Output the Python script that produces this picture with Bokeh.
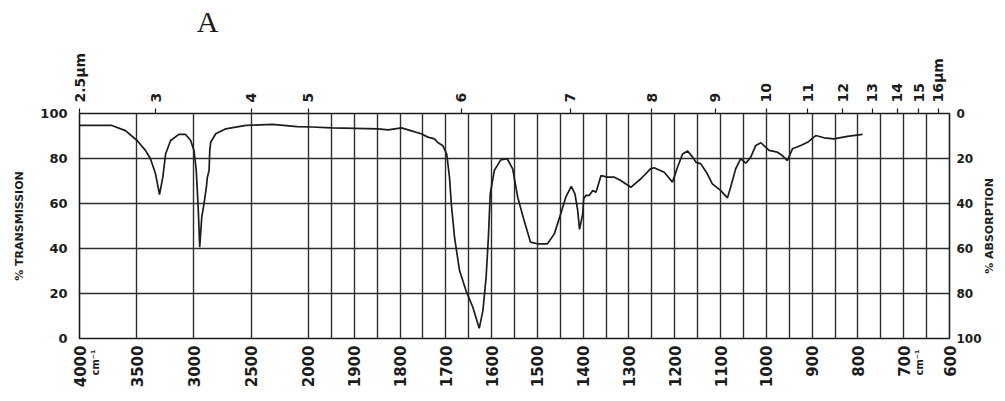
import math
from bokeh.plotting import figure
from bokeh.models import Range1d, LinearAxis, FixedTicker, Label
from bokeh.embed import file_html
from bokeh.resources import INLINE

# ---- data ----
wavenumber = [4000, 3717, 3599, 3497, 3424, 3380, 3336, 3301, 3272, 3248, 3204, 3132, 3073, 3029,
              3000, 2980, 2962, 2950, 2932, 2912, 2892, 2883, 2868, 2862, 2854, 2810, 2722, 2547,
              2313, 2100, 1991, 1950, 1848, 1826, 1797, 1775, 1754, 1739, 1725, 1717, 1707, 1698,
              1692, 1688, 1681, 1670, 1656, 1641, 1627, 1619, 1612, 1607, 1603, 1594, 1580, 1566,
              1554, 1543, 1529, 1515, 1500, 1478, 1463, 1449, 1438, 1426, 1418, 1412, 1408, 1401,
              1399, 1394, 1387, 1379, 1372, 1361, 1347, 1332, 1318, 1296, 1274, 1253, 1245, 1223,
              1205, 1194, 1183, 1172, 1161, 1154, 1143, 1129, 1118, 1100, 1085, 1078, 1067, 1056,
              1045, 1034, 1023, 1012, 994, 976, 965, 954, 943, 925, 910, 892, 874, 852, 823, 790]
transmission = [94.7, 94.7, 92.4, 88.0, 83.6, 79.9, 73.2, 64.0, 71.7, 82.0, 88.0, 90.7, 90.7, 88.0,
                83.6, 74.7, 56.9, 40.6, 53.9, 59.9, 67.2, 71.7, 74.7, 83.6, 87.2, 91.0, 93.2, 94.7,
                95.2, 94.2, 94.0, 93.6, 93.2, 92.7, 93.6, 92.3, 91.0, 89.5, 88.7, 87.0, 85.8, 82.0,
                71.7, 59.9, 45.0, 30.2, 21.3, 13.9, 4.5, 12.4, 27.2, 45.0, 64.3, 74.7, 79.4, 79.9,
                75.4, 62.8, 52.4, 42.8, 42.1, 42.1, 46.5, 55.4, 62.8, 67.6, 64.3, 56.9, 48.5, 55.4,
                62.1, 63.6, 63.6, 65.8, 65.0, 72.4, 71.7, 71.7, 70.2, 67.2, 71.0, 75.4, 75.9, 73.9,
                69.5, 76.1, 82.0, 83.3, 80.6, 78.4, 77.6, 73.2, 68.7, 65.8, 62.5, 67.2, 75.4, 79.9,
                77.9, 80.6, 85.8, 87.0, 83.6, 82.8, 81.3, 79.1, 84.3, 85.8, 87.2, 90.2, 89.2, 88.7,
                89.8, 90.7]

bottom_tick_wn = [4000, 3500, 3000, 2500, 2000, 1900, 1800, 1700, 1600, 1500, 1400, 1300,
                  1200, 1100, 1000, 900, 800, 700, 600]
bottom_tick_labels = [str(w) for w in bottom_tick_wn]
unit_label_wn = [4000, 700]
unit_labels = ["cm⁻¹", "cm⁻¹"]
top_tick_um = [2.5, 3, 4, 5, 6, 7, 8, 9, 10, 11, 12, 13, 14, 15, 16]
top_tick_labels = ["2.5µm", "3", "4", "5", "6", "7", "8", "9", "10", "11", "12", "13", "14", "15", "16µm"]
y_ticks = [0, 20, 40, 60, 80, 100]
transmission_labels = ["0", "20", "40", "60", "80", "100"]
absorption_labels = ["100", "80", "60", "40", "20", "0"]
grid_wn = [4000, 3500, 3000, 2500, 2000] + list(range(1950, 599, -50))


def chart_x(wn):
    # classic IR chart paper: 4000-2000 cm-1 compressed 4:1 relative to 2000-600 cm-1
    return (4000 - wn) / 4.0 if wn >= 2000 else 500.0 + (2000 - wn)


INK = "#1c1c1c"
GRID = "#2e2e2e"
FONT = "DejaVu Sans"
UNIT_SHIFT = 34  # small sideways shift of the "cm-1" captions next to their numbers

p = figure(width=1005, height=401, output_backend="svg", toolbar_location=None,
           x_range=Range1d(0, 1900), y_range=Range1d(0, 100),
           min_border_left=79, min_border_right=56, min_border_top=113, min_border_bottom=63)
p.background_fill_color = "white"
p.border_fill_color = "white"
p.outline_line_color = INK
p.outline_line_width = 1.6

# bottom axis: wavenumber
bx = p.xaxis[0]
bx.ticker = FixedTicker(ticks=[chart_x(w) for w in bottom_tick_wn])
bx.major_label_overrides = {chart_x(w): t for w, t in zip(bottom_tick_wn, bottom_tick_labels)}
bx.major_label_orientation = math.pi / 2
bx.major_label_standoff = 7

# left axis: % transmission
ly = p.yaxis[0]
ly.ticker = FixedTicker(ticks=y_ticks)
ly.major_label_overrides = {v: t for v, t in zip(y_ticks, transmission_labels)}
ly.axis_label = "% TRANSMISSION"
ly.axis_label_standoff = 11
ly.major_label_standoff = 12

# top axis: wavelength
top_pos = [chart_x(10000.0 / u) for u in top_tick_um]
tx = LinearAxis(ticker=FixedTicker(ticks=top_pos),
                major_label_overrides={x: t for x, t in zip(top_pos, top_tick_labels)},
                major_label_orientation=math.pi / 2)
p.add_layout(tx, "above")
tx.major_tick_out = 5
tx.major_tick_in = 0
tx.major_label_standoff = 6

# panel letter "A"
p.add_layout(Label(x=0, y=100, x_offset=128, y_offset=92, text="A", text_align="center",
                   text_baseline="alphabetic", text_font="Liberation Serif",
                   text_font_size="30px", text_color=INK), "above")

# right axis: % absorption
ry = LinearAxis(ticker=FixedTicker(ticks=y_ticks),
                major_label_overrides={v: t for v, t in zip(y_ticks, absorption_labels)})
p.add_layout(ry, "right")
ry.major_label_standoff = 7
p.add_layout(Label(x=1900, y=50, x_offset=40, text="% ABSORPTION", angle=math.pi / 2,
                   text_align="center", text_baseline="middle", text_font=FONT,
                   text_font_size="11px", text_font_style="bold", text_color=INK), "right")

# "cm-1" captions tucked beside the 4000 and 700 labels
ux_pos = [chart_x(w) + UNIT_SHIFT for w in unit_label_wn]
ux = LinearAxis(ticker=FixedTicker(ticks=ux_pos),
                major_label_overrides={x: t for x, t in zip(ux_pos, unit_labels)},
                major_label_orientation=math.pi / 2)
p.add_layout(ux, "below")
ux.major_label_standoff = -41

for ax in (bx, ly, tx, ry, ux):
    ax.axis_line_color = None
    ax.minor_tick_line_color = None
    ax.major_label_text_font = FONT
    ax.major_label_text_font_size = "13px"
    ax.major_label_text_font_style = "bold"
    ax.major_label_text_color = INK
    ax.axis_label_text_font = FONT
    ax.axis_label_text_font_size = "11px"
    ax.axis_label_text_font_style = "bold"
    ax.axis_label_text_color = INK
for ax in (bx, ly, ry, ux):
    ax.major_tick_line_color = None
    ax.major_tick_out = 0
    ax.major_tick_in = 0
bx.major_label_text_font_size = "15px"
ry.major_label_text_font_size = "12px"
ux.major_label_text_font_size = "10px"
tx.major_label_text_font_size = "14px"
tx.major_tick_line_color = INK
tx.major_tick_line_width = 1.2

# chart-paper grid
p.xgrid.ticker = FixedTicker(ticks=[chart_x(w) for w in grid_wn])
p.ygrid.ticker = FixedTicker(ticks=y_ticks)
for g in (p.xgrid[0], p.ygrid[0]):
    g.grid_line_color = GRID
    g.grid_line_width = 1.4
    g.grid_line_alpha = 1.0

# spectrum trace
p.line(x=[chart_x(w) for w in wavenumber], y=transmission, line_color=INK, line_width=1.7)

open("out.html", "w").write(file_html(p, INLINE))
